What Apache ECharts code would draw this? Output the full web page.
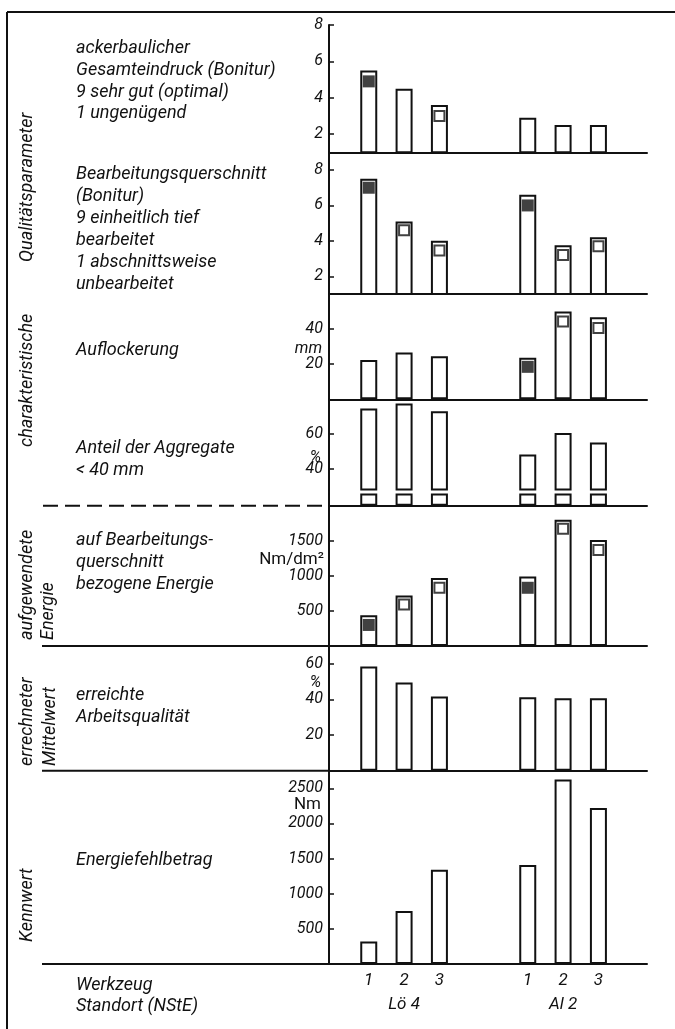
<!DOCTYPE html>
<html><head><meta charset="utf-8">
<script src="https://cdn.jsdelivr.net/npm/echarts@6/dist/echarts.min.js"></script>
<style>html,body{margin:0;padding:0;background:#fff}#c{width:675px;height:1029px}</style>
</head><body><div id="c"></div>
<script>
// ---- categories ----
const tools = ['1', '2', '3', '1', '2', '3'];
const sites = ['Lö 4', 'Al 2'];

// ---- series values (Lö 4: 1,2,3 ; Al 2: 1,2,3) ----
const gesamteindruck       = [5.5, 4.5, 3.6, 2.9, 2.5, 2.5];
const gesamteindruckFilled = [4.9, null, null, null, null, null];
const gesamteindruckOpen   = [null, null, 3.0, null, null, null];

const querschnitt          = [7.5, 5.1, 4.0, 6.6, 3.75, 4.2];
const querschnittFilled    = [7.0, null, null, 6.0, null, null];
const querschnittOpen      = [null, 4.6, 3.45, null, 3.2, 3.7];

const auflockerung         = [22.4, 26.7, 24.5, 23.7, 50, 46.7];
const auflockerungFilled   = [null, null, null, 18.5, null, null];
const auflockerungOpen     = [null, null, null, null, 44.3, 40.6];

const aggregate            = [74.7, 77.6, 73.1, 48.2, 60.6, 55.1];

const energie              = [440, 720, 970, 990, 1800, 1510];
const energieFilled        = [300, null, null, 830, null, null];
const energieOpen          = [null, 590, 830, null, 1670, 1370];

const arbeitsqualitaet     = [58.5, 49.5, 41.6, 41.2, 40.7, 40.6];
const energiefehlbetrag    = [320, 755, 1340, 1410, 2625, 2220];

// ---- tick labels ----
const ticksBonitur   = [2, 4, 6, 8];
const ticksMm        = [20, 40];
const ticksAggregate = [40, 60];
const ticksEnergie   = [500, 1000, 1500];
const ticksQualitaet = [20, 40, 60];
const ticksFehl      = [500, 1000, 1500, 2000, 2500];

// ---- layout ----
const N = 36;
const slots = [4, 8, 12, 22, 26, 30];
const FONT = 'Roboto, "DejaVu Sans", sans-serif';
const INK = '#111';

function toSlots(arr) {
  const out = new Array(N).fill('-');
  slots.forEach((s, i) => { out[s] = (arr[i] == null ? '-' : arr[i]); });
  return out;
}
const cats = new Array(N).fill('');
slots.forEach((s, i) => { cats[s] = tools[i]; });

const panels = [
  {top: 25,    bottom: 152.3, min: 1,  max: 8,    ticks: ticksBonitur,   bars: gesamteindruck,   filled: gesamteindruckFilled, open: gesamteindruckOpen},
  {top: 152.3, bottom: 294,   min: 1,  max: 9,    ticks: ticksBonitur,   bars: querschnitt,      filled: querschnittFilled,    open: querschnittOpen},
  {top: 294,   bottom: 399.3, min: 0,  max: 60,   ticks: ticksMm,        bars: auflockerung,     filled: auflockerungFilled,   open: auflockerungOpen},
  {top: 399.3, bottom: 489.5, min: 28, max: 80,   ticks: ticksAggregate, bars: aggregate, hideX: true},
  {top: 494.5, bottom: 505.7, min: 0,  max: 6.5,  ticks: [],             bars: aggregate},
  {top: 505.7, bottom: 646,   min: 0,  max: 2000, ticks: ticksEnergie,   bars: energie,          filled: energieFilled,        open: energieOpen},
  {top: 646,   bottom: 770.7, min: 0,  max: 70,   ticks: ticksQualitaet, bars: arbeitsqualitaet},
  {top: 770.7, bottom: 964,   min: 0,  max: 2750, ticks: ticksFehl,      bars: energiefehlbetrag, last: true}
];

const grid = [], xAxis = [], yAxis = [], series = [];
panels.forEach((p, i) => {
  grid.push({left: 329, right: 28, top: p.top, height: p.bottom - p.top, containLabel: false, outerBoundsMode: 'none'});
  xAxis.push({
    type: 'category', gridIndex: i, data: cats, boundaryGap: true,
    axisLine: {show: !p.hideX, onZero: false, lineStyle: {color: INK, width: 2}},
    axisTick: {show: false},
    axisLabel: p.last ? {
      show: true, interval: 0, margin: 6, color: INK,
      formatter: function (v, idx) {
        if (!v) return '';
        const k = slots.indexOf(idx);
        if (k % 3 === 1) return '{t|' + v + '}\n{s|' + sites[(k - 1) / 3] + '}';
        return '{t|' + v + '}';
      },
      rich: {
        t: {fontSize: 17, fontStyle: 'italic', fontFamily: FONT, color: INK, lineHeight: 22},
        s: {fontSize: 17, fontStyle: 'italic', fontFamily: FONT, color: INK, lineHeight: 26}
      }
    } : {show: false},
    splitLine: {show: false}
  });
  yAxis.push({
    type: 'value', gridIndex: i, min: p.min, max: p.max,
    axisLine: {show: true, lineStyle: {color: INK, width: 2}},
    axisTick: {show: p.ticks.length > 0, inside: true, length: 5, customValues: p.ticks, lineStyle: {color: INK, width: 1.5}},
    axisLabel: {show: p.ticks.length > 0, customValues: p.ticks, margin: 6, color: INK, fontSize: 16, fontStyle: 'italic', fontFamily: FONT,
      formatter: function (v) { return String(v); }},
    splitLine: {show: false}
  });
  series.push({
    type: 'bar', xAxisIndex: i, yAxisIndex: i, data: toSlots(p.bars), barWidth: 17, clip: true,
    itemStyle: {color: '#fff', borderColor: INK, borderWidth: 2}, silent: true
  });
  if (p.filled) series.push({
    type: 'scatter', xAxisIndex: i, yAxisIndex: i, data: toSlots(p.filled), symbol: 'rect', symbolSize: 12,
    itemStyle: {color: INK}, silent: true, z: 5
  });
  if (p.open) series.push({
    type: 'scatter', xAxisIndex: i, yAxisIndex: i, data: toSlots(p.open), symbol: 'rect', symbolSize: 10,
    itemStyle: {color: '#fff', borderColor: INK, borderWidth: 2}, silent: true, z: 5
  });
});

// ---- texts ----
function txt(text, x, y, opts) {
  opts = opts || {};
  return {
    type: 'text', x: x, y: y, rotation: opts.rot || 0, silent: true,
    style: {
      text: text, fill: INK, fontSize: opts.size || 18, fontFamily: FONT,
      fontStyle: opts.upright ? 'normal' : 'italic',
      textAlign: opts.align || 'left', verticalAlign: 'middle'
    }
  };
}
function line(x1, y1, x2, y2, dash) {
  return {type: 'line', silent: true, shape: {x1: x1, y1: y1, x2: x2, y2: y2},
    style: {stroke: INK, lineWidth: 2, lineDash: dash || null}};
}
const leftLines = [
  ['ackerbaulicher', 48], ['Gesamteindruck (Bonitur)', 70], ['9 sehr gut (optimal)', 92], ['1 ungenügend', 113],
  ['Bearbeitungsquerschnitt', 174], ['(Bonitur)', 196], ['9 einheitlich tief', 218], ['bearbeitet', 240],
  ['1 abschnittsweise', 262], ['unbearbeitet', 284],
  ['Auflockerung', 350],
  ['Anteil der Aggregate', 448], ['< 40 mm', 470],
  ['auf Bearbeitungs-', 540], ['querschnitt', 562], ['bezogene Energie', 584],
  ['erreichte', 695], ['Arbeitsqualität', 717],
  ['Energiefehlbetrag', 860],
  ['Werkzeug', 985], ['Standort (NStE)', 1006]
];
const R = Math.PI / 2;
const graphic = [
  line(7, 12, 675, 12),
  line(7, 12, 7, 1029),
  line(43, 505.7, 329, 505.7, [15, 7]),
  line(42, 646, 329, 646),
  line(42, 770.7, 329, 770.7),
  line(42, 964, 329, 964),
  line(329, 489, 329, 495),
  txt('charakteristische', 27, 447, {rot: R}),
  txt('Qualitätsparameter', 27, 262, {rot: R}),
  txt('aufgewendete', 27, 640, {rot: R}),
  txt('Energie', 48, 640, {rot: R}),
  txt('errechneter', 27, 766, {rot: R}),
  txt('Mittelwert', 50, 766, {rot: R}),
  txt('Kennwert', 27, 942, {rot: R}),
  txt('mm', 322, 349, {align: 'right', size: 16}),
  txt('%', 321, 458, {align: 'right', size: 16}),
  txt('Nm/dm²', 324, 560, {align: 'right', size: 17, upright: true}),
  txt('%', 321, 683, {align: 'right', size: 16}),
  txt('Nm', 321, 805, {align: 'right', size: 17, upright: true})
];
leftLines.forEach(l => graphic.push(txt(l[0], 76, l[1])));

const chart = echarts.init(document.getElementById('c'), null, {renderer: 'canvas'});
chart.setOption({
  backgroundColor: '#fff',
  animation: false,
  grid: grid, xAxis: xAxis, yAxis: yAxis, series: series,
  graphic: graphic
});
</script></body></html>
